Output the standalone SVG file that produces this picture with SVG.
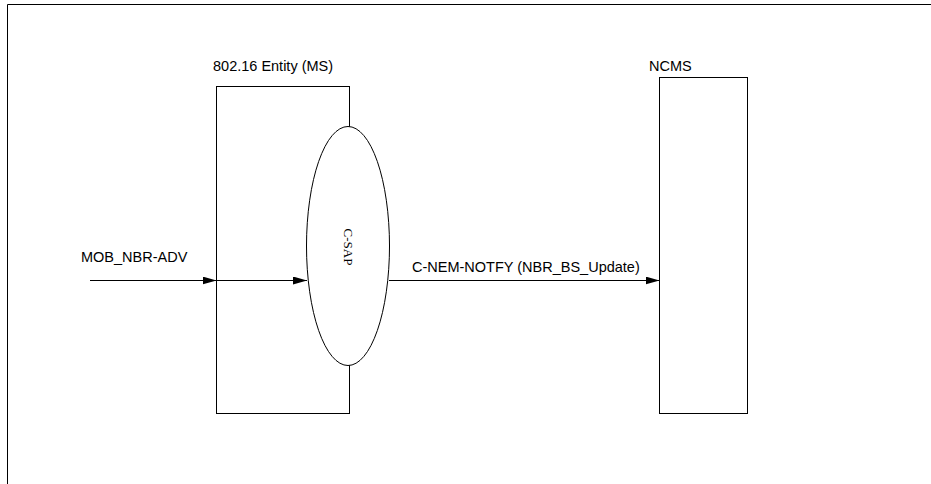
<svg xmlns="http://www.w3.org/2000/svg" width="931" height="484" viewBox="0 0 931 484">
<style>
.ln{stroke:#000;stroke-width:1;fill:none}
.bx{stroke:#000;stroke-width:1;fill:#fff}
.t{font-family:"Liberation Sans",Arial,sans-serif;font-size:14.5px;fill:#000}
.s{font-family:"Liberation Serif","Times New Roman",serif;font-size:13px;fill:#000}
</style>
<defs>
<marker id="ah" markerWidth="14" markerHeight="8" refX="14" refY="4" orient="auto" markerUnits="userSpaceOnUse">
<path d="M0,0 L14,4 L0,8 Z" fill="#000"/>
</marker>
</defs>
<rect width="931" height="484" fill="#fff"/>
<g id="frame">
<path class="ln" d="M7.5,490 V4.5 H935" stroke-width="1.5"/>
</g>
<g id="entity">
<rect class="bx" x="216.5" y="86.5" width="133" height="327"/>
<text class="t" x="213" y="71">802.16 Entity (MS)</text>
</g>
<g id="csap">
<ellipse class="bx" cx="348" cy="246" rx="41.5" ry="119.5"/>
<text class="s" transform="translate(344,247) rotate(90)" text-anchor="middle">C-SAP</text>
</g>
<g id="ncms">
<rect class="bx" x="659.5" y="77.5" width="88" height="336"/>
<text class="t" x="649" y="71">NCMS</text>
</g>
<g id="connectors">
<line class="ln" x1="90" y1="280.5" x2="216.5" y2="280.5" marker-end="url(#ah)"/>
<line class="ln" x1="216.5" y1="280.5" x2="307" y2="280.5" marker-end="url(#ah)"/>
<line class="ln" x1="389" y1="280.5" x2="659.5" y2="280.5" marker-end="url(#ah)"/>
<text class="t" x="81" y="262">MOB_NBR-ADV</text>
<text class="t" x="412" y="272">C-NEM-NOTFY (NBR_BS_Update)</text>
</g>
</svg>
